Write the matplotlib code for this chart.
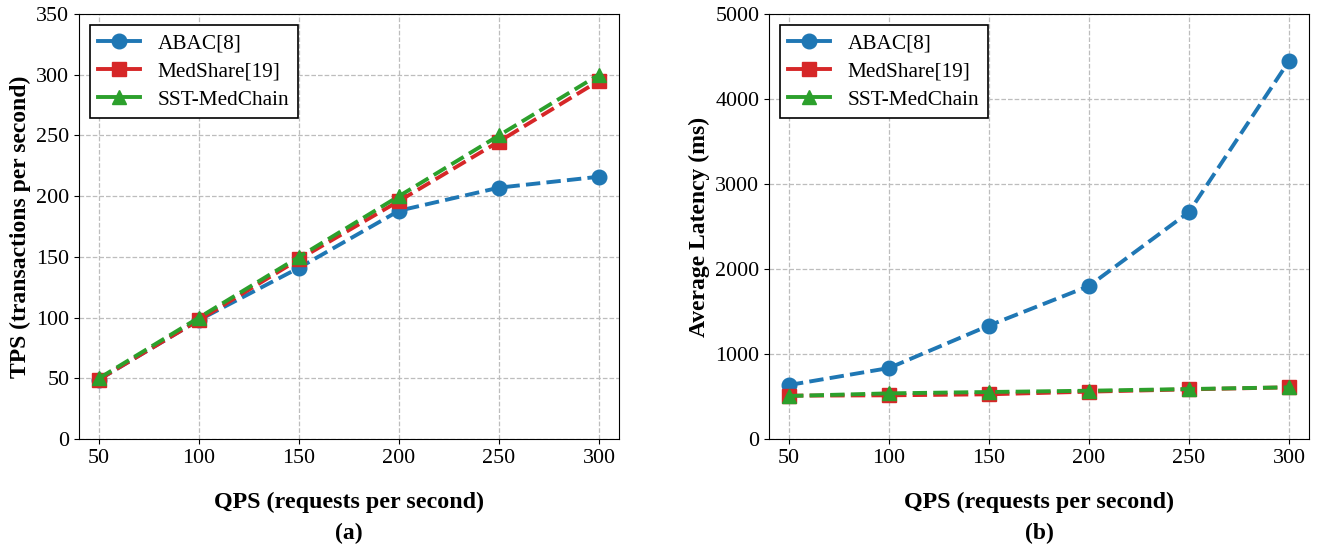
import matplotlib
matplotlib.use("Agg")
import matplotlib.pyplot as plt

plt.rcParams["font.family"] = ["Liberation Serif", "DejaVu Serif"]

# data
qps = [50, 100, 150, 200, 250, 300]
series_names = ["ABAC[8]", "MedShare[19]", "SST-MedChain"]

tps_abac = [49, 98, 141, 188, 207, 216]
tps_medshare = [49, 98, 148, 196, 245, 295]
tps_sst = [50, 100, 150, 200, 250, 300]

lat_abac = [635, 835, 1335, 1800, 2670, 4447]
lat_medshare = [510, 514, 526, 557, 584, 608]
lat_sst = [506, 537, 553, 568, 588, 608]

tps_ticks = [0, 50, 100, 150, 200, 250, 300, 350]
lat_ticks = [0, 1000, 2000, 3000, 4000, 5000]

colors = ["#1f77b4", "#d62728", "#2ca02c"]
markers = ["o", "s", "^"]

fig = plt.figure(figsize=(13.19, 5.49), dpi=100)
ax1 = fig.add_axes([79 / 1319, 110 / 549, 540 / 1319, 425 / 549])
ax2 = fig.add_axes([769 / 1319, 110 / 549, 540 / 1319, 425 / 549])


def draw(ax, ys, ticks, ylabel, tag):
    for y, name, c, m in zip(ys, series_names, colors, markers):
        ax.plot(qps, y, linestyle="--", marker=m, color=c, label=name,
                linewidth=2.8, markersize=10.5)
    ax.set_xlim(40, 310)
    ax.set_ylim(ticks[0], ticks[-1])
    ax.set_xticks(qps)
    ax.set_yticks(ticks)
    ax.tick_params(labelsize=15.8)
    ax.grid(True, linestyle="--", color="#bdbdbd", linewidth=0.9)
    ax.set_axisbelow(True)
    ax.set_xlabel("QPS (requests per second)", fontsize=17.3,
                  fontweight="bold", labelpad=17)
    ax.set_ylabel(ylabel, fontsize=17, fontweight="bold", labelpad=4)
    ax.text(0.5, -0.222, tag, transform=ax.transAxes, ha="center",
            va="center", fontsize=17, fontweight="bold")
    leg = ax.legend(loc="upper left", fontsize=15.3, fancybox=False,
                    edgecolor="black", framealpha=1, handlelength=1.95,
                    handletextpad=0.85, labelspacing=0.4,
                    borderaxespad=0.5)
    leg.get_frame().set_linewidth(1.2)
    for line in leg.get_lines():
        line.set_linestyle("-")


draw(ax1, [tps_abac, tps_medshare, tps_sst], tps_ticks,
     "TPS (transactions per second)", "(a)")
draw(ax2, [lat_abac, lat_medshare, lat_sst], lat_ticks,
     "Average Latency (ms)", "(b)")

fig.savefig("out.png", dpi=100)
